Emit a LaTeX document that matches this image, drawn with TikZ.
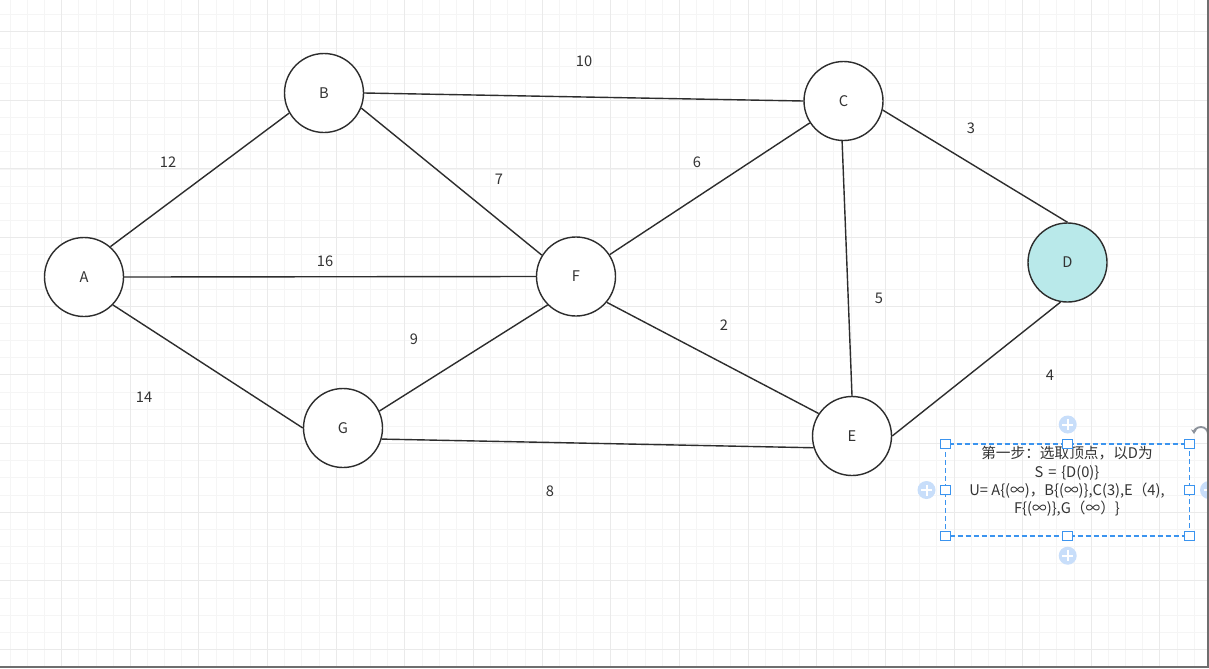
\documentclass[tikz,border=0pt]{standalone}
\usepackage{fontspec}
\setmainfont{Noto Sans CJK SC}
\usetikzlibrary{arrows.meta}
\definecolor{linec}{RGB}{45,45,45}
\definecolor{textc}{RGB}{51,51,51}
\definecolor{minorc}{RGB}{245,245,245}
\definecolor{majorc}{RGB}{234,234,234}
\definecolor{selc}{RGB}{59,148,239}
\definecolor{plusbg}{RGB}{200,222,250}
\definecolor{rotc}{RGB}{140,146,155}
\definecolor{barc}{RGB}{110,110,110}
\definecolor{dfill}{RGB}{185,233,234}
\begin{document}
\begin{tikzpicture}[x=0.75pt,y=-0.75pt,
  vtx/.style={circle,draw=linec,fill=white,line width=1.05pt,minimum size=59.25pt,inner sep=0pt,font=\fontsize{11}{13}\selectfont,text=textc},
  edge/.style={draw=linec,line width=1.05pt},
  lbl/.style={font=\fontsize{11}{13}\selectfont,text=textc,inner sep=0pt},
  handle/.style={rectangle,draw=selc,fill=white,line width=0.9pt,minimum size=7pt,inner sep=0pt},
  plusc/.style={circle,fill=plusbg,minimum size=13.5pt,inner sep=0pt}]
\useasboundingbox (0,0) rectangle (1209,668);
\fill[white] (0,0) rectangle (1209,668);
% grid
\foreach \i in {0,...,71} {\draw[minorc,line width=0.75pt] ({-6.94+17.16*\i},0) -- ++(0,668);}
\foreach \j in {0,...,39} {\draw[minorc,line width=0.75pt] (0,{-2.6+17.16*\j}) -- ++(1209,0);}
\foreach \k in {0,...,17} {\draw[majorc,line width=0.75pt] ({-6.94+68.64*\k},0) -- ++(0,668);}
\foreach \k in {0,...,9} {\draw[majorc,line width=0.75pt] (0,{31.7+68.64*\k}) -- ++(1209,0);}
% vertices
\node[vtx] (A) at (84,277) {A};
\node[vtx] (B) at (324,93) {B};
\node[vtx] (C) at (843.5,101) {C};
\node[vtx,fill=dfill] (D) at (1067.5,262.5) {D};
\node[vtx] (E) at (852,436) {E};
\node[vtx] (F) at (576,276.5) {F};
\node[vtx] (G) at (343,428) {G};
% edges
\draw[edge] (A.49) -- (B.210);
\draw[edge] (A.east) -- (F.west);
\draw[edge] (A.-44) -- (G.west);
\draw[edge] (B.east) -- (C.west);
\draw[edge] (B.-22) -- (F.148);
\draw[edge] (F.33) -- (C.213);
\draw[edge] (C.-13) -- (D.north);
\draw[edge] (C.268) -- (E.north);
\draw[edge] (F.-40) -- (E.146);
\draw[edge] (F.225) -- (G.25);
\draw[edge] (G.-16) -- (E.197);
\draw[edge] (E.east) -- (D.260);
% labels
\node[lbl] (l10) at (584,61) {10};
\node[lbl] (l12) at (168,162) {12};
\node[lbl] (l7) at (499,179) {7};
\node[lbl] (l6) at (697,162) {6};
\node[lbl] (l3) at (971,128) {3};
\node[lbl] (l16) at (325,261) {16};
\node[lbl] (l5) at (879,298) {5};
\node[lbl] (l2) at (724,325) {2};
\node[lbl] (l9) at (414,339) {9};
\node[lbl] (l14) at (144,397) {14};
\node[lbl] (l4) at (1050,375) {4};
\node[lbl] (l8) at (550,491) {8};
% selected text box
\draw[selc,line width=1pt,dash pattern=on 3.75pt off 2.25pt] (945.5,444) rectangle (1189.5,536);
\node[lbl,align=center,font=\fontsize{11}{13.7}\selectfont] (note) at (1067,481.5)
  {第一步：选取顶点，以D为\\S\hspace{0.33em}=\hspace{0.33em}\{D(0)\}\\U= A\{(∞)，B\{(∞)\},C(3),E（4),\\F\{(∞)\},G（∞）\}};
\node[handle] (h1) at (945.5,444) {};
\node[handle] (h2) at (1067.5,444) {};
\node[handle] (h3) at (1189.5,444) {};
\node[handle] (h4) at (945.5,490) {};
\node[handle] (h5) at (1189.5,490) {};
\node[handle] (h6) at (945.5,536) {};
\node[handle] (h7) at (1067.5,536) {};
\node[handle] (h8) at (1189.5,536) {};
% plus icons
\node[plusc] (p1) at (1067.7,424.5) {};
\node[plusc] (p2) at (1067.7,555.7) {};
\node[plusc] (p3) at (926.5,490) {};
\node[plusc] (p4) at (1209,490) {};
\foreach \p in {p1,p2,p3,p4} {
  \draw[white,line width=1.5pt] (\p.center) ++(-5.5,0) -- ++(11,0) (\p.center) ++(0,-5.5) -- ++(0,11);
}
% rotate icon
\draw[rotc,line width=1.4pt,{Stealth[length=3.5pt,width=4.5pt]}-] (1194,434) arc[start angle=180,end angle=360,radius=7];
% window edges
\fill[barc] (1206.7,0) rectangle (1209,668);
\fill[barc] (0,666) rectangle (1209,668);
\end{tikzpicture}
\end{document}
